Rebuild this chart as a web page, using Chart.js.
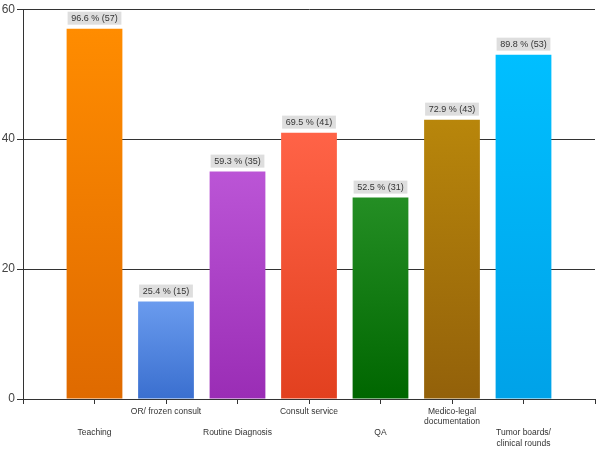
<!DOCTYPE html>
<html>
<head>
<meta charset="utf-8">
<script src="https://cdn.jsdelivr.net/npm/chart.js@4"></script>
<style>
  html, body { margin: 0; padding: 0; background: #fff; }
  #wrap { width: 600px; height: 450px; }
</style>
</head>
<body>
<div id="wrap"><canvas id="chart"></canvas></div>
<script>
// data
const categories = [
    "Teaching",
    "OR/ frozen consult",
    "Routine Diagnosis",
    "Consult service",
    "QA",
    ["Medico-legal", "documentation"],
    ["Tumor boards/", "clinical rounds"]
];
const counts = [57, 15, 35, 41, 31, 43, 53];
const percents = [96.6, 25.4, 59.3, 69.5, 52.5, 72.9, 89.8];
const yTicks = [0, 20, 40, 60];

// bar colours, top -> bottom
const topColors = ["#ff8c00", "#6a9bee", "#bb55d6", "#ff6347", "#248e24", "#b8860b", "#00bfff"];
const bottomColors = ["#df6a00", "#3a6fcf", "#9a2db5", "#e2401f", "#006600", "#93610a", "#00a2e8"];

// empty slot at each end, like the original axis
const labels = ["", ...categories, ""];
const values = [null, ...counts, null];

const FONT = "'Liberation Sans', Arial, sans-serif";

function barFill(c) {
    const i = c.dataIndex - 1;
    const chart = c.chart;
    if (i < 0 || i >= counts.length) return "#000";
    if (!chart.chartArea) return topColors[i];
    const y = chart.scales.y;
    const g = chart.ctx.createLinearGradient(0, y.getPixelForValue(counts[i]), 0, y.getPixelForValue(0));
    g.addColorStop(0, topColors[i]);
    g.addColorStop(1, bottomColors[i]);
    return g;
}

// grey value boxes above every bar
const valueBoxes = {
    id: "valueBoxes",
    afterDatasetsDraw(chart) {
        const ctx = chart.ctx;
        const meta = chart.getDatasetMeta(0);
        ctx.save();
        ctx.font = "9px " + FONT;
        ctx.textAlign = "center";
        ctx.textBaseline = "middle";
        meta.data.forEach((bar, idx) => {
            const i = idx - 1;
            if (i < 0 || i >= counts.length) return;
            const text = percents[i].toFixed(1) + " % (" + counts[i] + ")";
            const w = bar.width - 2;
            const h = 13;
            const top = bar.y - 4 - h;
            ctx.fillStyle = "#dedede";
            ctx.fillRect(bar.x - w / 2, top, w, h);
            ctx.fillStyle = "#333";
            ctx.fillText(text, bar.x, top + h / 2 + 0.5);
        });
        ctx.restore();
    }
};

new Chart(document.getElementById("chart"), {
    type: "bar",
    data: {
        labels: labels,
        datasets: [{
            data: values,
            backgroundColor: barFill,
            borderWidth: 0,
            categoryPercentage: 1,
            barPercentage: 0.78
        }]
    },
    options: {
        responsive: true,
        maintainAspectRatio: false,
        animation: false,
        events: [],
        layout: { padding: { top: 8, right: 5, left: 0, bottom: 0 } },
        plugins: {
            legend: { display: false },
            tooltip: { enabled: false }
        },
        scales: {
            x: {
                offset: false,
                grid: {
                    offset: false,
                    drawOnChartArea: false,
                    drawTicks: true,
                    tickLength: 5,
                    color: "#333"
                },
                border: { display: true, color: "#333", width: 1 },
                ticks: {
                    autoSkip: false,
                    maxRotation: 0,
                    minRotation: 0,
                    padding: 2,
                    color: "#333",
                    font: { family: FONT, size: 8.5, lineHeight: 1.25 },
                    callback: function (v, idx) {
                        const lab = labels[idx];
                        if (!lab) return "";
                        const lines = Array.isArray(lab) ? lab : [lab];
                        // every other label sits two lines lower
                        return idx % 2 === 1 ? ["", "", ...lines] : lines;
                    }
                },
                afterFit(scale) { scale.height = 51; }
            },
            y: {
                min: 0,
                max: 60,
                afterBuildTicks(scale) { scale.ticks = yTicks.map(v => ({ value: v })); },
                grid: {
                    color: "#333",
                    tickLength: 6,
                    lineWidth: 1
                },
                border: { display: true, color: "#333", width: 1 },
                ticks: {
                    padding: 2,
                    color: "#444",
                    font: { family: FONT, size: 12 }
                },
                afterFit(scale) { scale.width = 23; }
            }
        }
    },
    plugins: [valueBoxes]
});
</script>
</body>
</html>
